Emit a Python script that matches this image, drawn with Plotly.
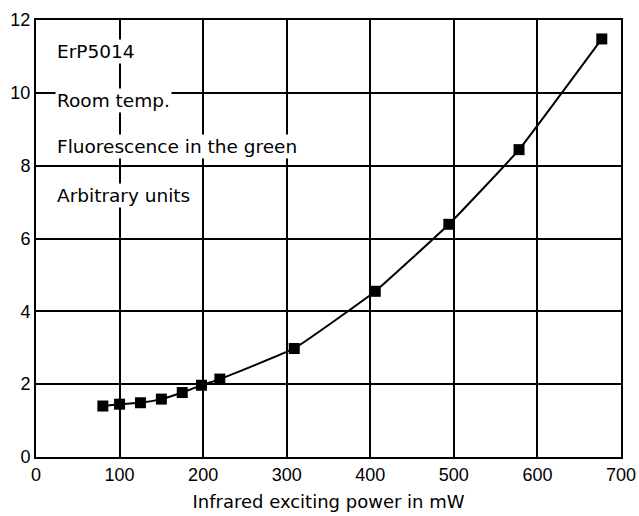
import plotly.graph_objects as go

power_mw = [80, 100, 125, 150, 175, 198, 220, 309, 406, 494, 578, 677]
fluorescence = [1.40, 1.45, 1.49, 1.59, 1.77, 1.97, 2.14, 2.98, 4.55, 6.39, 8.44, 11.48]
x_ticks = [0, 100, 200, 300, 400, 500, 600, 700]
y_ticks = [0, 2, 4, 6, 8, 10, 12]
notes = ["ErP5014", "Room temp.", "Fluorescence in the green", "Arbitrary units"]
note_y = [11.13, 9.8, 8.52, 7.18]

font_family = "Liberation Sans, Arial, Helvetica, sans-serif"
wide_family = "DejaVu Sans, Verdana, sans-serif"

fig = go.Figure()
fig.add_trace(go.Scatter(
    x=power_mw, y=fluorescence, mode="lines+markers",
    line=dict(color="black", width=2, shape="spline", smoothing=0.3),
    marker=dict(symbol="square", size=11, color="black"),
    showlegend=False,
))

for t, yy in zip(notes, note_y):
    fig.add_annotation(
        x=23, y=yy, xref="x", yref="y", text=t, showarrow=False,
        xanchor="left", yanchor="middle", bgcolor="white", borderpad=1,
        font=dict(family=wide_family, size=18.5, color="black"),
    )

axis_common = dict(
    showgrid=True, gridcolor="black", gridwidth=1.5,
    showline=True, linecolor="black", linewidth=2, mirror=True,
    zeroline=False, ticks="", automargin=False,
    tickfont=dict(family=font_family, size=18, color="black"),
)
fig.update_xaxes(range=[0, 700], tickvals=x_ticks, ticktext=[str(v) for v in x_ticks],
                 title=dict(text="Infrared exciting power in mW", standoff=12,
                            font=dict(family=wide_family, size=18, color="black")),
                 **axis_common)
fig.update_yaxes(range=[0, 12], tickvals=y_ticks, ticktext=[str(v) for v in y_ticks],
                 **axis_common)

fig.update_layout(
    width=639, height=516,
    margin=dict(l=36, r=18, t=20, b=59, pad=0),
    plot_bgcolor="white", paper_bgcolor="white",
)
fig.write_html("out.html")
